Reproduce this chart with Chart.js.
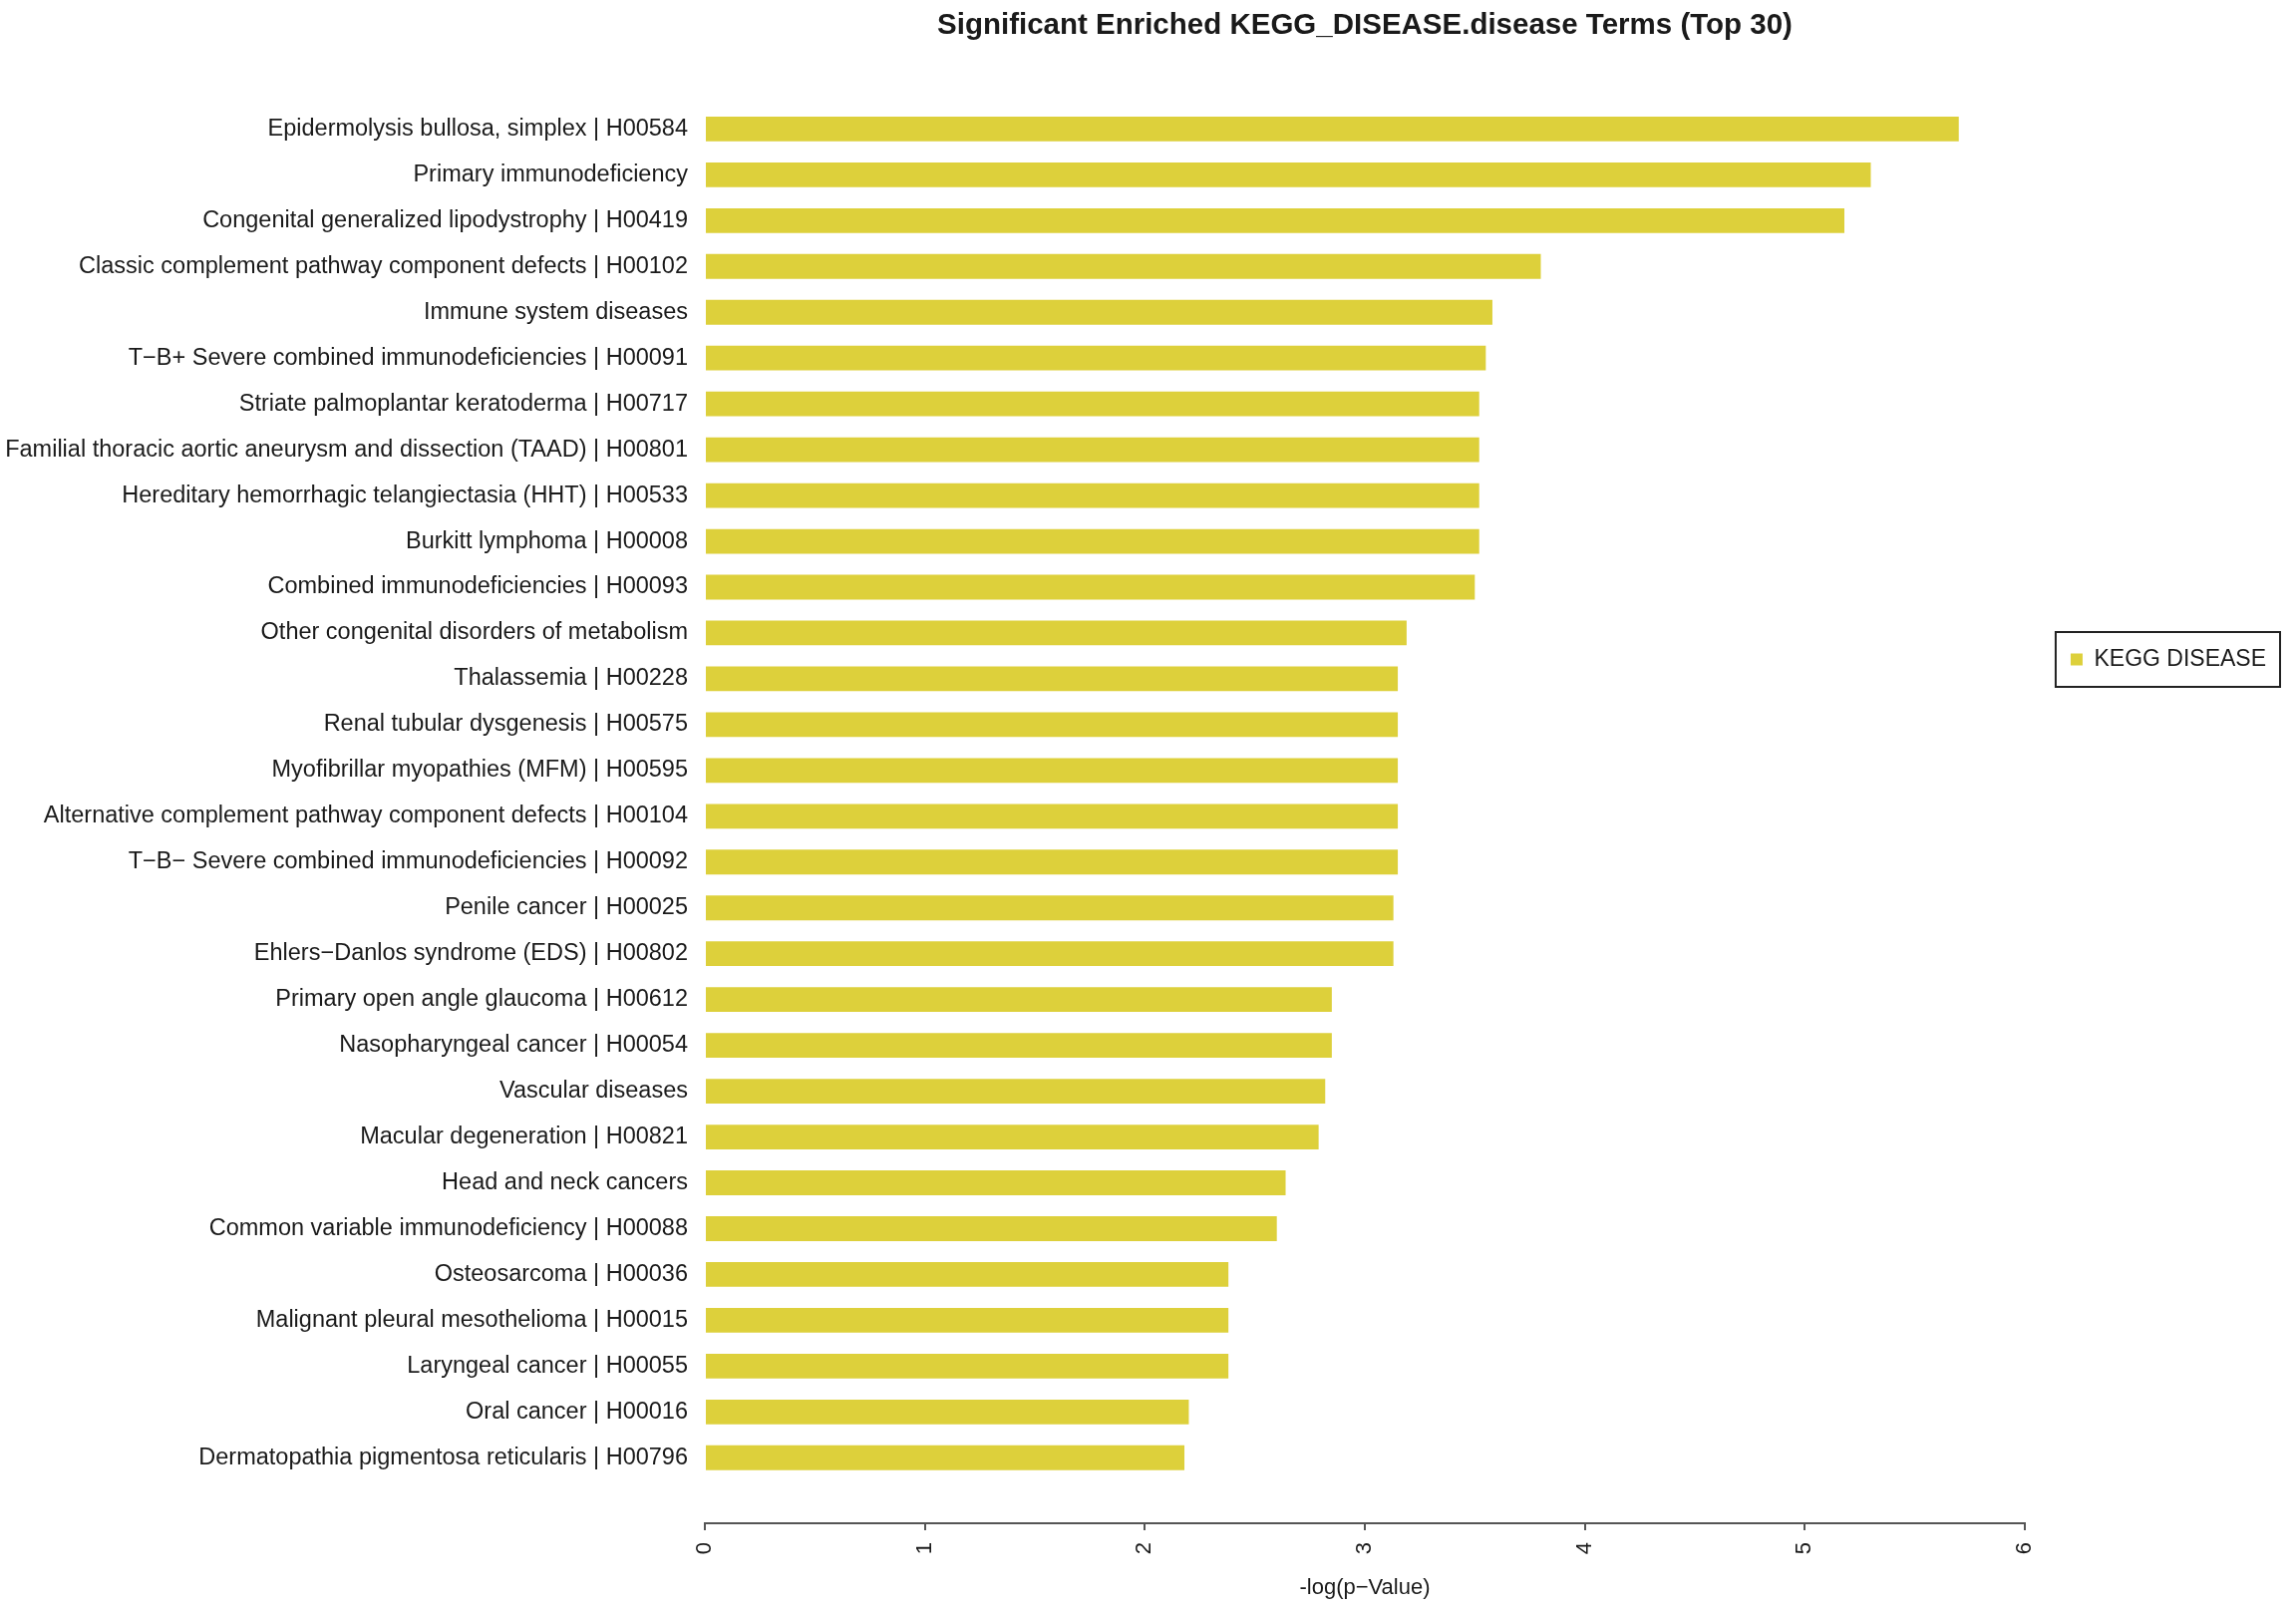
<!DOCTYPE html>
<html>
<head>
<meta charset="utf-8">
<title>KEGG disease enrichment</title>
<script src="https://cdn.jsdelivr.net/npm/chart.js@4/dist/chart.umd.min.js"></script>
<style>
  body { margin: 0; background: #fff; }
  canvas { display: block; }
</style>
</head>
<body>
<canvas id="myChart" width="2303" height="1614"></canvas>
<script>
// terms, top to bottom
const terms = [
  'Epidermolysis bullosa, simplex | H00584',
  'Primary immunodeficiency',
  'Congenital generalized lipodystrophy | H00419',
  'Classic complement pathway component defects | H00102',
  'Immune system diseases',
  'T\u2212B+ Severe combined immunodeficiencies | H00091',
  'Striate palmoplantar keratoderma | H00717',
  'Familial thoracic aortic aneurysm and dissection (TAAD) | H00801',
  'Hereditary hemorrhagic telangiectasia (HHT) | H00533',
  'Burkitt lymphoma | H00008',
  'Combined immunodeficiencies | H00093',
  'Other congenital disorders of metabolism',
  'Thalassemia | H00228',
  'Renal tubular dysgenesis | H00575',
  'Myofibrillar myopathies (MFM) | H00595',
  'Alternative complement pathway component defects | H00104',
  'T\u2212B\u2212 Severe combined immunodeficiencies | H00092',
  'Penile cancer | H00025',
  'Ehlers\u2212Danlos syndrome (EDS) | H00802',
  'Primary open angle glaucoma | H00612',
  'Nasopharyngeal cancer | H00054',
  'Vascular diseases',
  'Macular degeneration | H00821',
  'Head and neck cancers',
  'Common variable immunodeficiency | H00088',
  'Osteosarcoma | H00036',
  'Malignant pleural mesothelioma | H00015',
  'Laryngeal cancer | H00055',
  'Oral cancer | H00016',
  'Dermatopathia pigmentosa reticularis | H00796'
];

// -log(p-Value)
const logP = [
  5.70, 5.30, 5.18, 3.80, 3.58, 3.55, 3.52, 3.52, 3.52, 3.52,
  3.50, 3.19, 3.15, 3.15, 3.15, 3.15, 3.15, 3.13, 3.13, 2.85,
  2.85, 2.82, 2.79, 2.64, 2.60, 2.38, 2.38, 2.38, 2.20, 2.18
];

const xTicks = [0, 1, 2, 3, 4, 5, 6];
const seriesName = 'KEGG DISEASE';
const chartTitle = 'Significant Enriched KEGG_DISEASE.disease Terms (Top 30)';
const xTitle = '-log(p\u2212Value)';

const barColor = 'rgb(221,208,59)';
const textColor = '#1a1a1a';

const points = terms.map((t, i) => ({ x: logP[i], y: i }));

// frame around the legend item, like the R legend box
const legendFrame = {
  id: 'legendFrame',
  afterDraw(chart) {
    const hb = chart.legend && chart.legend.legendHitBoxes[0];
    if (!hb) return;
    const ctx = chart.ctx;
    ctx.save();
    ctx.strokeStyle = '#222';
    ctx.lineWidth = 2;
    ctx.strokeRect(hb.left - 15, hb.top + hb.height / 2 - 27.5, hb.width + 29, 55);
    ctx.restore();
  }
};

const ctx = document.getElementById('myChart').getContext('2d');

new Chart(ctx, {
  type: 'bar',
  data: {
    datasets: [{
      label: seriesName,
      data: points,
      backgroundColor: barColor,
      borderWidth: 0,
      barPercentage: 0.54,
      categoryPercentage: 1
    }]
  },
  options: {
    indexAxis: 'y',
    responsive: false,
    animation: false,
    devicePixelRatio: 1,
    layout: { padding: { left: 0, right: 20, top: 0, bottom: 0 } },
    plugins: {
      title: {
        display: true,
        text: chartTitle,
        fullSize: false,
        color: textColor,
        font: { family: 'Liberation Sans', size: 29.5, weight: 'bold', lineHeight: 1.2 },
        padding: { top: 8, bottom: 63 }
      },
      legend: {
        display: true,
        position: 'right',
        align: 'start',
        title: {
          display: true,
          text: '',
          font: { size: 10, lineHeight: 1 },
          padding: { top: 594, bottom: 0 }
        },
        labels: {
          boxWidth: 12,
          boxHeight: 12,
          padding: 46,
          color: textColor,
          font: { family: 'Liberation Sans', size: 23 }
        }
      },
      tooltip: { enabled: false }
    },
    scales: {
      x: {
        type: 'linear',
        position: 'bottom',
        min: 0,
        max: 6,
        afterBuildTicks: s => { s.ticks = xTicks.map(v => ({ value: v })); },
        afterFit: s => { s.height = 86; },
        grid: {
          display: true,
          drawOnChartArea: false,
          drawTicks: true,
          tickLength: 7,
          color: '#555',
          lineWidth: 2
        },
        border: { display: true, color: '#555', width: 2 },
        ticks: {
          minRotation: 90,
          maxRotation: 90,
          padding: 12,
          color: textColor,
          font: { family: 'Liberation Sans', size: 22 }
        },
        title: {
          display: true,
          text: xTitle,
          color: textColor,
          font: { family: 'Liberation Sans', size: 22, lineHeight: 1.2 },
          padding: { top: 4, bottom: 8 }
        }
      },
      y: {
        type: 'linear',
        reverse: true,
        offset: false,
        bounds: 'data',
        min: -0.5,
        max: terms.length - 0.5 + 0.93,
        afterBuildTicks: s => { s.ticks = terms.map((t, i) => ({ value: i })); },
        afterFit: s => { s.width = 707; },
        grid: { display: false, drawTicks: false, offset: false },
        border: { display: false },
        ticks: {
          autoSkip: false,
          padding: 17,
          color: textColor,
          font: { family: 'Liberation Sans', size: 23.5 },
          callback: v => (terms[v] !== undefined ? terms[v] : '')
        }
      }
    }
  },
  plugins: [legendFrame]
});
</script>
</body>
</html>
